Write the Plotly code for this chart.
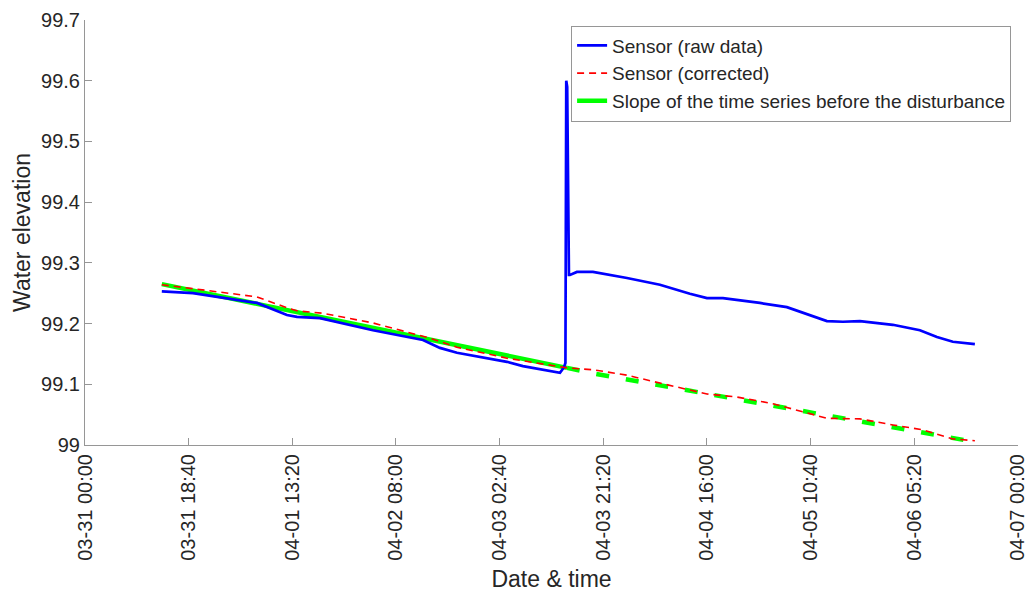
import plotly.graph_objects as go

# Raw sensor record (water elevation), including the disturbance spike
raw_time = [
    "2021-03-31 13:50", "2021-03-31 19:27", "2021-04-01 06:58", "2021-04-01 12:22",
    "2021-04-01 14:10", "2021-04-01 18:19", "2021-04-02 03:51", "2021-04-02 12:52",
    "2021-04-02 15:55", "2021-04-02 18:59", "2021-04-03 03:59", "2021-04-03 06:52",
    "2021-04-03 13:32", "2021-04-03 14:15", "2021-04-03 14:31", "2021-04-03 14:40",
    "2021-04-03 14:50", "2021-04-03 15:00", "2021-04-03 15:09", "2021-04-03 15:20",
    "2021-04-03 16:35",
    "2021-04-03 19:28", "2021-04-04 01:36", "2021-04-04 07:32", "2021-04-04 12:56",
    "2021-04-04 16:00", "2021-04-04 18:53", "2021-04-05 01:32", "2021-04-05 06:24",
    "2021-04-05 13:36", "2021-04-05 16:29", "2021-04-05 19:33", "2021-04-06 01:29",
    "2021-04-06 06:21", "2021-04-06 09:25", "2021-04-06 12:17", "2021-04-06 16:15",
]
raw_level = [
    99.253, 99.250, 99.234, 99.214,
    99.211, 99.209, 99.189, 99.173,
    99.160, 99.152, 99.137, 99.130,
    99.119, 99.128, 99.135, 99.600,
    99.590, 99.330, 99.280, 99.280,
    99.285,
    99.285, 99.275, 99.264, 99.249,
    99.242, 99.242, 99.234, 99.227,
    99.204, 99.203, 99.204, 99.198,
    99.189, 99.178, 99.170, 99.166,
]

# Corrected sensor record
corr_time = [
    "2021-03-31 13:50", "2021-03-31 21:58", "2021-04-01 06:58", "2021-04-01 12:22",
    "2021-04-01 14:10", "2021-04-01 18:51", "2021-04-02 03:51", "2021-04-02 14:07",
    "2021-04-02 18:59", "2021-04-03 03:59", "2021-04-03 13:32", "2021-04-03 14:47",
    "2021-04-03 19:28", "2021-04-04 01:36", "2021-04-04 07:32", "2021-04-04 16:00",
    "2021-04-04 21:24", "2021-04-05 03:53", "2021-04-05 13:36", "2021-04-05 19:33",
    "2021-04-06 01:29", "2021-04-06 06:53", "2021-04-06 12:17", "2021-04-06 16:15",
]
corr_level = [
    99.264, 99.255, 99.244, 99.226,
    99.221, 99.217, 99.201, 99.176,
    99.161, 99.143, 99.128, 99.127,
    99.124, 99.115, 99.102, 99.084,
    99.079, 99.068, 99.044, 99.043,
    99.033, 99.025, 99.010, 99.007,
]

# Trend fitted before the disturbance, and its continuation afterwards
slope_time = ["2021-03-31 13:50", "2021-04-03 14:47"]
slope_level = [99.265, 99.127]
slope_ext_time = ["2021-04-03 14:47", "2021-04-03 19:28", "2021-04-04 16:51",
                  "2021-04-05 14:27", "2021-04-06 16:15"]
slope_ext_level = [99.127, 99.118, 99.083, 99.048, 99.005]

y_ticks = [99.0, 99.1, 99.2, 99.3, 99.4, 99.5, 99.6, 99.7]
y_tick_text = ["99", "99.1", "99.2", "99.3", "99.4", "99.5", "99.6", "99.7"]

FONT = "Liberation Sans, Arial, sans-serif"
TXT = "#262626"
AX = "#969696"

fig = go.Figure()

fig.add_trace(go.Scatter(
    x=slope_time, y=slope_level, mode="lines",
    name="Slope of the time series before the disturbance",
    line=dict(color="#00ff00", width=4.5),
    legendgroup="slope", legendrank=3,
))
fig.add_trace(go.Scatter(
    x=slope_ext_time, y=slope_ext_level, mode="lines",
    name="Slope of the time series before the disturbance",
    line=dict(color="#00ff00", width=4.5, dash="13px,17px"),
    legendgroup="slope", showlegend=False,
))
fig.add_trace(go.Scatter(
    x=raw_time, y=raw_level, mode="lines",
    name="Sensor (raw data)",
    line=dict(color="#0000ff", width=2.7),
    legendrank=1,
))
fig.add_trace(go.Scatter(
    x=corr_time, y=corr_level, mode="lines",
    name="Sensor (corrected)",
    line=dict(color="#ff0000", width=1.6, dash="7px,5px"),
    legendrank=2,
))

fig.update_layout(
    width=1028, height=592,
    margin=dict(l=85, r=10, t=20, b=147),
    paper_bgcolor="white", plot_bgcolor="white",
    font=dict(family=FONT, color=TXT),
    showlegend=True,
    legend=dict(
        x=0.521, y=0.987, xanchor="left", yanchor="top",
        bgcolor="white", bordercolor=AX, borderwidth=1,
        font=dict(family=FONT, size=19, color=TXT),
        tracegroupgap=0, itemwidth=30,
    ),
    xaxis=dict(
        type="date", automargin=False,
        range=["2021-03-31 00:00", "2021-04-07 00:01"],
        tick0="2021-03-31 00:00", dtick=18 * 3600 * 1000 + 40 * 60 * 1000,
        tickformat="%m-%d %H:%M", tickangle=-90, ticklabeloverflow="allow",
        ticks="inside", ticklen=7, tickcolor=AX, tickwidth=1,
        showline=True, linecolor=AX, linewidth=1,
        showgrid=False, zeroline=False,
        tickfont=dict(family=FONT, size=20, color=TXT),
        title=dict(text="Date & time", font=dict(family=FONT, size=23, color=TXT), standoff=11),
    ),
    yaxis=dict(
        range=[99, 99.7], automargin=False,
        tickmode="array", tickvals=y_ticks, ticktext=y_tick_text,
        ticks="inside", ticklen=7, tickcolor=AX, tickwidth=1,
        showline=True, linecolor=AX, linewidth=1,
        showgrid=False, zeroline=False,
        tickfont=dict(family=FONT, size=20, color=TXT),
        title=dict(text="Water elevation", font=dict(family=FONT, size=23, color=TXT), standoff=4),
    ),
)

fig.write_html("out.html")
